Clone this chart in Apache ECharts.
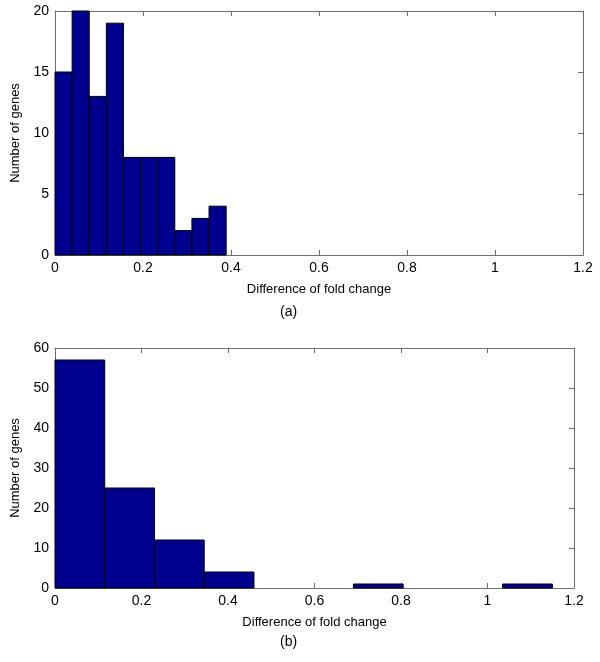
<!DOCTYPE html>
<html><head><meta charset="utf-8">
<script src="https://cdn.jsdelivr.net/npm/echarts@6/dist/echarts.min.js"></script>
<style>html,body{margin:0;padding:0;background:#fff}#c{width:600px;height:662px}</style>
</head><body><div id="c"></div>
<script>
// Panel (a): histogram bin edges and counts
const edgesA = [0, 0.0389, 0.0778, 0.1167, 0.1556, 0.1945, 0.2334, 0.2723, 0.3112, 0.3501, 0.389];
const countsA = [15, 20, 13, 19, 8, 8, 8, 2, 3, 4];
// Panel (b)
const edgesB = [0, 0.115, 0.23, 0.345, 0.46, 0.575, 0.69, 0.805, 0.92, 1.035, 1.15];
const countsB = [57, 25, 12, 4, 0, 0, 1, 0, 0, 1];
const xTicks = [0, 0.2, 0.4, 0.6, 0.8, 1, 1.2];
const yTicksA = [0, 5, 10, 15, 20];
const yTicksB = [0, 10, 20, 30, 40, 50, 60];
const xTitle = 'Difference of fold change';
const yTitle = 'Number of genes';
const labels = ['(a)', '(b)'];

function toData(edges, counts){
  return counts.map((c,i)=>[edges[i], edges[i+1], c]);
}
const FONT = 'Liberation Sans, Arial, sans-serif';
const frame = '#6e6e6e';
function renderItem(params, api){
  const p0 = api.coord([api.value(0), api.value(2)]);
  const p1 = api.coord([api.value(1), 0]);
  if (api.value(2) <= 0) return null;
  return {type:'rect', shape:{x:p0[0], y:p0[1], width:p1[0]-p0[0], height:p1[1]-p0[1]},
    style:{fill:'#00008F', stroke:'#000', lineWidth:1}};
}
function xAx(gi, pos, show){
  return {type:'value', gridIndex:gi, position:pos, min:xTicks[0], max:xTicks[xTicks.length-1], interval:0.2,
    axisLine:{show:true, onZero:false, lineStyle:{color:frame, width:1}},
    axisTick:{show:true, inside:true, length:5, lineStyle:{color:frame}},
    axisLabel:{show:show, color:'#000', fontSize:14, fontFamily:FONT, margin:6,
      formatter:v=>String(+v.toFixed(1))},
    splitLine:{show:false},
    name: show ? xTitle : '', nameLocation:'middle', nameGap:28,
    nameTextStyle:{color:'#000', fontSize:13, fontFamily:FONT}};
}
function yAx(gi, pos, show, ticks){
  return {type:'value', gridIndex:gi, position:pos, min:ticks[0], max:ticks[ticks.length-1], interval:ticks[1]-ticks[0],
    axisLine:{show:true, onZero:false, lineStyle:{color:frame, width:1}},
    axisTick:{show:true, inside:true, length:5, lineStyle:{color:frame}},
    axisLabel:{show:show, color:'#000', fontSize:14, fontFamily:FONT, margin:6},
    splitLine:{show:false},
    name: show ? yTitle : '', nameLocation:'middle', nameGap:33,
    nameTextStyle:{color:'#000', fontSize:13, fontFamily:FONT}};
}
const chart = echarts.init(document.getElementById('c'), null, {renderer:'canvas'});
chart.setOption({
  animation:false,
  backgroundColor:'#fff',
  grid:[{left:55, top:11, width:528, height:244},{left:55, top:348, width:519, height:240}],
  xAxis:[xAx(0,'bottom',true), xAx(0,'top',false), xAx(1,'bottom',true), xAx(1,'top',false)],
  yAxis:[yAx(0,'left',true,yTicksA), yAx(0,'right',false,yTicksA),
         yAx(1,'left',true,yTicksB), yAx(1,'right',false,yTicksB)],
  series:[
    {type:'custom', xAxisIndex:0, yAxisIndex:0, renderItem, encode:{x:[0,1], y:2}, data:toData(edgesA,countsA), clip:false},
    {type:'custom', xAxisIndex:2, yAxisIndex:2, renderItem, encode:{x:[0,1], y:2}, data:toData(edgesB,countsB), clip:false}
  ],
  graphic:[
    {type:'text', left:280, top:305, style:{text:labels[0], fill:'#000', font:'14px '+FONT}},
    {type:'text', left:280, top:635, style:{text:labels[1], fill:'#000', font:'14px '+FONT}}
  ]
});
</script></body></html>
